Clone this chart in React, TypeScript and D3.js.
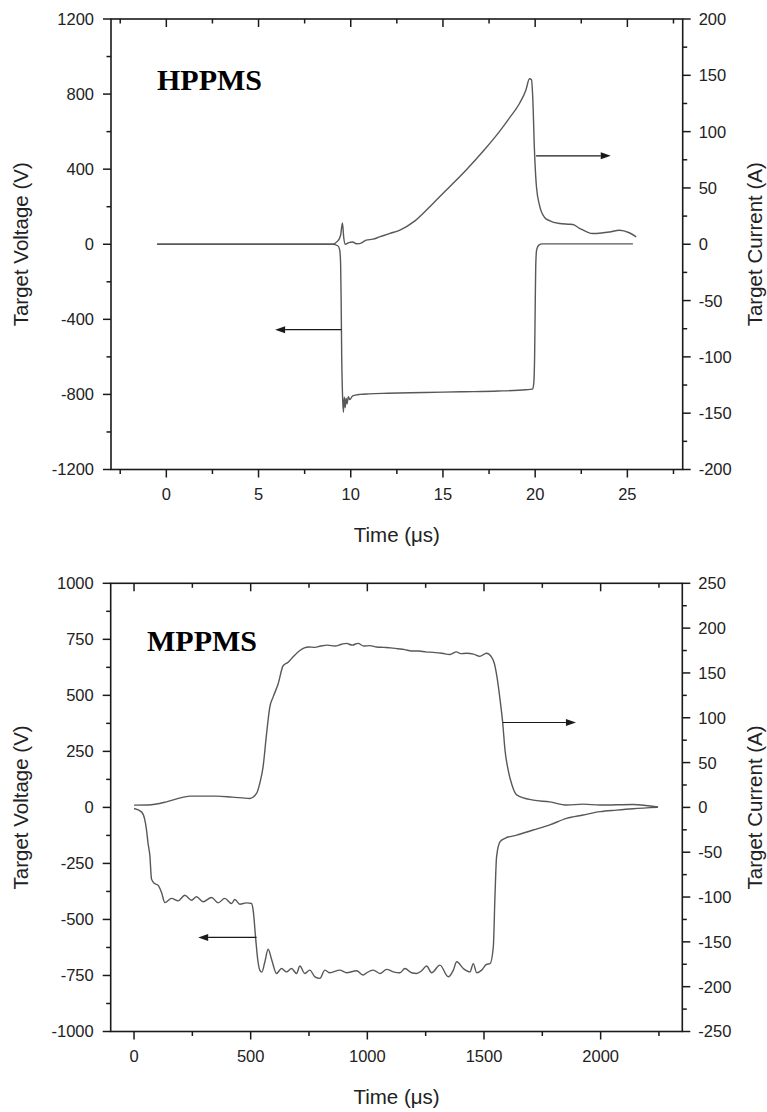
import React from 'react';
import * as d3 from 'd3';

// ---------- HPPMS (top) data ----------
const hpVoltT = [-0.5, 9.0, 9.3, 9.4, 9.45, 9.48, 9.51, 9.55, 9.6, 9.65, 9.7, 9.75, 9.8, 9.87, 9.95, 10.1, 10.5, 11, 12, 14, 16, 18, 19.5, 19.85, 19.92, 19.97, 20.0, 20.03, 20.08, 20.2, 20.4, 25.3];
const hpVoltV = [0, 0, -8, -30, -100, -300, -600, -790, -895, -815, -870, -820, -850, -812, -828, -808, -800, -797, -794, -790, -786, -782, -775, -772, -745, -600, -350, -120, -30, -5, 2, 2];
const hpCurT = [-0.5, 9.0, 9.3, 9.45, 9.55, 9.62, 9.7, 9.9, 10.11, 10.3, 10.47, 10.84, 11.2, 11.56, 12.1, 12.64, 13.5, 14.45, 15.3, 16.26, 17.2, 18.06, 18.6, 19.15, 19.5, 19.69, 19.8, 19.87, 19.96, 20.07, 20.23, 20.5, 20.77, 21.32, 21.8, 22.04, 22.4, 22.8, 23.12, 23.6, 24.03, 24.57, 25.1, 25.48];
const hpCurI = [0, 0, 3, 8, 19, 6, 0, 1.5, 2, 0.5, 0.6, 3.6, 4.5, 6.5, 9.5, 12.4, 21, 36, 50, 66, 83, 100, 112, 125, 137, 147, 146, 130, 84, 51, 35, 24, 21, 18.4, 17.8, 17.5, 14.2, 11, 9.5, 10, 10.9, 12.4, 10.2, 6.5];
const hpTimeTicks = [0, 5, 10, 15, 20, 25];
const hpTimeMinor = [-2.5, 2.5, 7.5, 12.5, 17.5, 22.5, 27.5];
const hpVoltTicks = [-1200, -800, -400, 0, 400, 800, 1200];
const hpVoltMinor = [-1000, -600, -200, 200, 600, 1000];
const hpCurTicks = [-200, -150, -100, -50, 0, 50, 100, 150, 200];
const hpCurMinor = [-175, -125, -75, -25, 25, 75, 125, 175];
// arrows: [value on its axis, from time, to time]
const hpVoltArrow = [-455, 9.5, 5.9];
const hpCurArrow = [78.5, 20.05, 24.1];

// ---------- MPPMS (bottom) data ----------
const mpVoltT = [0, 32, 45, 53.6, 60, 67.7, 75, 88, 103, 118, 132, 160.7, 189, 217.7, 246.4, 267.9, 296, 332, 360.5, 389, 418, 432, 453.5, 482, 503.6, 510.5, 522, 530.6, 539, 547.8, 560.6, 574.8, 590.6, 610.8, 632, 653.5, 675, 696.6, 710.8, 732, 753.6, 775, 796.6, 818, 839.5, 882, 911, 954, 982.6, 997, 1025.6, 1054, 1082.6, 1111, 1139.6, 1161, 1190, 1211, 1232.6, 1254, 1275.6, 1311, 1347, 1368.6, 1383, 1411.6, 1440, 1454, 1468.6, 1490, 1511.6, 1526, 1540, 1547, 1554, 1569, 1590, 1640, 1711, 1782, 1854, 1925, 1997, 2068, 2139, 2246];
const mpVoltV = [-5, -20, -50, -101, -160, -213, -320, -340, -347, -380, -425, -406, -417, -392, -414, -399, -421, -402, -426, -406, -429, -411, -432, -426, -429, -458, -592, -682, -726, -735, -690, -633, -682, -741, -719, -734, -719, -741, -708, -741, -726, -756, -763, -726, -738, -726, -738, -729, -748, -738, -726, -741, -723, -734, -738, -719, -738, -741, -729, -708, -738, -704, -756, -726, -689, -719, -734, -697, -738, -726, -700, -697, -622, -399, -220, -153, -138, -124, -101, -78, -49, -34, -19, -12, -6, 0];
const mpCurT = [0, 60, 139, 190, 239, 300, 353.6, 420, 496, 525, 540, 553, 568, 582, 596, 618, 639, 660.6, 682, 710.7, 730, 750, 775, 800, 830, 860, 890, 910, 935, 960, 985, 1010, 1040, 1070, 1100, 1130, 1160, 1190, 1220, 1250, 1282, 1320, 1354, 1382, 1400, 1425, 1455, 1482, 1511, 1532, 1545, 1556, 1568, 1580, 1590, 1605, 1620, 1640, 1711, 1782, 1854, 1925, 1997, 2139, 2246];
const mpCurI = [2.5, 2.6, 6.2, 10, 12.6, 12.6, 12.6, 11.5, 10, 15.6, 28, 45, 82, 112, 123, 138, 158, 162, 168, 175, 178, 179, 178.5, 180, 181, 180, 182, 183, 181, 183, 180, 180.5, 179, 178.5, 178, 177, 176, 174.5, 174.5, 173.5, 173, 172, 170.5, 173.5, 171.5, 172, 171, 168.5, 172, 168, 160, 145, 122, 95, 64, 40, 25, 14, 8.1, 6.2, 2.6, 3.7, 2.6, 3.3, 0.5];
const mpTimeTicks = [0, 500, 1000, 1500, 2000];
const mpTimeMinor = [250, 750, 1250, 1750, 2250];
const mpVoltTicks = [-1000, -750, -500, -250, 0, 250, 500, 750, 1000];
const mpVoltMinor = [-875, -625, -375, -125, 125, 375, 625, 875];
const mpCurTicks = [-250, -200, -150, -100, -50, 0, 50, 100, 150, 200, 250];
const mpCurMinor = [-225, -175, -125, -75, -25, 25, 75, 125, 175, 225];
const mpVoltArrow = [-580, 525, 275];
const mpCurArrow = [94.7, 1580, 1894];

const SANS = "'Liberation Sans', Arial, sans-serif";
const SERIF = "'Liberation Serif', 'Times New Roman', serif";
const LINE = '#585858';
const AX = '#1a1a1a';

type PanelProps = {
  box: { x0: number; x1: number; y0: number; y1: number };
  xDom: [number, number];
  yLDom: [number, number];
  yRDom: [number, number];
  voltT: number[]; voltV: number[]; curT: number[]; curI: number[];
  xTicks: number[]; xMinor: number[];
  yLTicks: number[]; yLMinor: number[];
  yRTicks: number[]; yRMinor: number[];
  voltArrow: number[]; curArrow: number[];
  label: string; labelX: number; labelY: number;
};

function Arrow({ x1, x2, y }: { x1: number; x2: number; y: number }) {
  const dir = x2 > x1 ? 1 : -1;
  const hl = 10, hw = 3.5;
  const bx = x2 - dir * hl;
  return (
    <g>
      <line x1={x1} x2={bx} y1={y} y2={y} stroke={AX} strokeWidth={1.2} />
      <path d={`M${x2},${y} L${bx},${y - hw} L${bx},${y + hw} Z`} fill={AX} />
    </g>
  );
}

function Panel(p: PanelProps) {
  const { box } = p;
  const x = d3.scaleLinear().domain(p.xDom).range([box.x0, box.x1]);
  const yL = d3.scaleLinear().domain(p.yLDom).range([box.y1, box.y0]);
  const yR = d3.scaleLinear().domain(p.yRDom).range([box.y1, box.y0]);
  const vLine = d3.line<number>().x((_, i) => x(p.voltT[i])).y((v) => yL(v)).curve(d3.curveMonotoneX);
  const cLine = d3.line<number>().x((_, i) => x(p.curT[i])).y((v) => yR(v)).curve(d3.curveMonotoneX);
  const MAJ = 8, MIN = 4.5;
  const fs = 16.5;
  const cy = (box.y0 + box.y1) / 2;
  const cx = (box.x0 + box.x1) / 2;
  return (
    <g>
      {/* data */}
      <path d={vLine(p.voltV) || ''} fill="none" stroke={LINE} strokeWidth={1.4} />
      <path d={cLine(p.curI) || ''} fill="none" stroke={LINE} strokeWidth={1.4} />
      <Arrow y={yL(p.voltArrow[0])} x1={x(p.voltArrow[1])} x2={x(p.voltArrow[2])} />
      <Arrow y={yR(p.curArrow[0])} x1={x(p.curArrow[1])} x2={x(p.curArrow[2])} />
      {/* frame */}
      <rect x={box.x0} y={box.y0} width={box.x1 - box.x0} height={box.y1 - box.y0} fill="none" stroke={AX} strokeWidth={1.6} />
      {/* bottom + top ticks */}
      {p.xTicks.map((t) => (
        <g key={'xt' + t}>
          <line x1={x(t)} x2={x(t)} y1={box.y1} y2={box.y1 + MAJ} stroke={AX} strokeWidth={1.5} />
          <line x1={x(t)} x2={x(t)} y1={box.y0} y2={box.y0 + MAJ} stroke={AX} strokeWidth={1.5} />
          <text x={x(t)} y={box.y1 + 30} textAnchor="middle" fontFamily={SANS} fontSize={fs} fill="#222">{t}</text>
        </g>
      ))}
      {p.xMinor.map((t) => (
        <g key={'xm' + t}>
          <line x1={x(t)} x2={x(t)} y1={box.y1} y2={box.y1 + MIN} stroke={AX} strokeWidth={1.5} />
          <line x1={x(t)} x2={x(t)} y1={box.y0} y2={box.y0 + MIN} stroke={AX} strokeWidth={1.5} />
        </g>
      ))}
      {/* left ticks */}
      {p.yLTicks.map((v) => (
        <g key={'yl' + v}>
          <line x1={box.x0 - MAJ} x2={box.x0} y1={yL(v)} y2={yL(v)} stroke={AX} strokeWidth={1.5} />
          <text x={box.x0 - 17} y={yL(v)} dy="0.36em" textAnchor="end" fontFamily={SANS} fontSize={fs} fill="#222">{v}</text>
        </g>
      ))}
      {p.yLMinor.map((v) => (
        <line key={'ylm' + v} x1={box.x0 - MIN} x2={box.x0} y1={yL(v)} y2={yL(v)} stroke={AX} strokeWidth={1.5} />
      ))}
      {/* right ticks */}
      {p.yRTicks.map((v) => (
        <g key={'yr' + v}>
          <line x1={box.x1} x2={box.x1 + MAJ} y1={yR(v)} y2={yR(v)} stroke={AX} strokeWidth={1.5} />
          <text x={box.x1 + 16} y={yR(v)} dy="0.36em" textAnchor="start" fontFamily={SANS} fontSize={fs} fill="#222">{v}</text>
        </g>
      ))}
      {p.yRMinor.map((v) => (
        <line key={'yrm' + v} x1={box.x1} x2={box.x1 + MIN} y1={yR(v)} y2={yR(v)} stroke={AX} strokeWidth={1.5} />
      ))}
      {/* titles */}
      <text transform={`translate(21,${cy}) rotate(-90)`} dy="0.36em" textAnchor="middle" fontFamily={SANS} fontSize={20.5} fill="#222">Target Voltage (V)</text>
      <text transform={`translate(755,${cy}) rotate(-90)`} dy="0.36em" textAnchor="middle" fontFamily={SANS} fontSize={20.5} fill="#222">Target Current (A)</text>
      <text x={cx} y={box.y1 + 72} textAnchor="middle" fontFamily={SANS} fontSize={20.5} fill="#222">Time (μs)</text>
      <text x={p.labelX} y={p.labelY} fontFamily={SERIF} fontWeight="bold" fontSize={30} fill="#000">{p.label}</text>
    </g>
  );
}

export default function App() {
  return (
    <svg width={767} height={1112} style={{ position: 'absolute', left: 0, top: 0, background: '#fff' }}>
      <rect width={767} height={1112} fill="#fff" />
      <Panel
        box={{ x0: 111, x1: 682.7, y0: 19, y1: 469.5 }}
        xDom={[-3, 28]} yLDom={[-1200, 1200]} yRDom={[-200, 200]}
        voltT={hpVoltT} voltV={hpVoltV} curT={hpCurT} curI={hpCurI}
        xTicks={hpTimeTicks} xMinor={hpTimeMinor}
        yLTicks={hpVoltTicks} yLMinor={hpVoltMinor}
        yRTicks={hpCurTicks} yRMinor={hpCurMinor}
        voltArrow={hpVoltArrow} curArrow={hpCurArrow}
        label="HPPMS" labelX={157} labelY={90}
      />
      <Panel
        box={{ x0: 110.7, x1: 682.3, y0: 583.3, y1: 1031.5 }}
        xDom={[-100, 2350]} yLDom={[-1000, 1000]} yRDom={[-250, 250]}
        voltT={mpVoltT} voltV={mpVoltV} curT={mpCurT} curI={mpCurI}
        xTicks={mpTimeTicks} xMinor={mpTimeMinor}
        yLTicks={mpVoltTicks} yLMinor={mpVoltMinor}
        yRTicks={mpCurTicks} yRMinor={mpCurMinor}
        voltArrow={mpVoltArrow} curArrow={mpCurArrow}
        label="MPPMS" labelX={147} labelY={651}
      />
    </svg>
  );
}
